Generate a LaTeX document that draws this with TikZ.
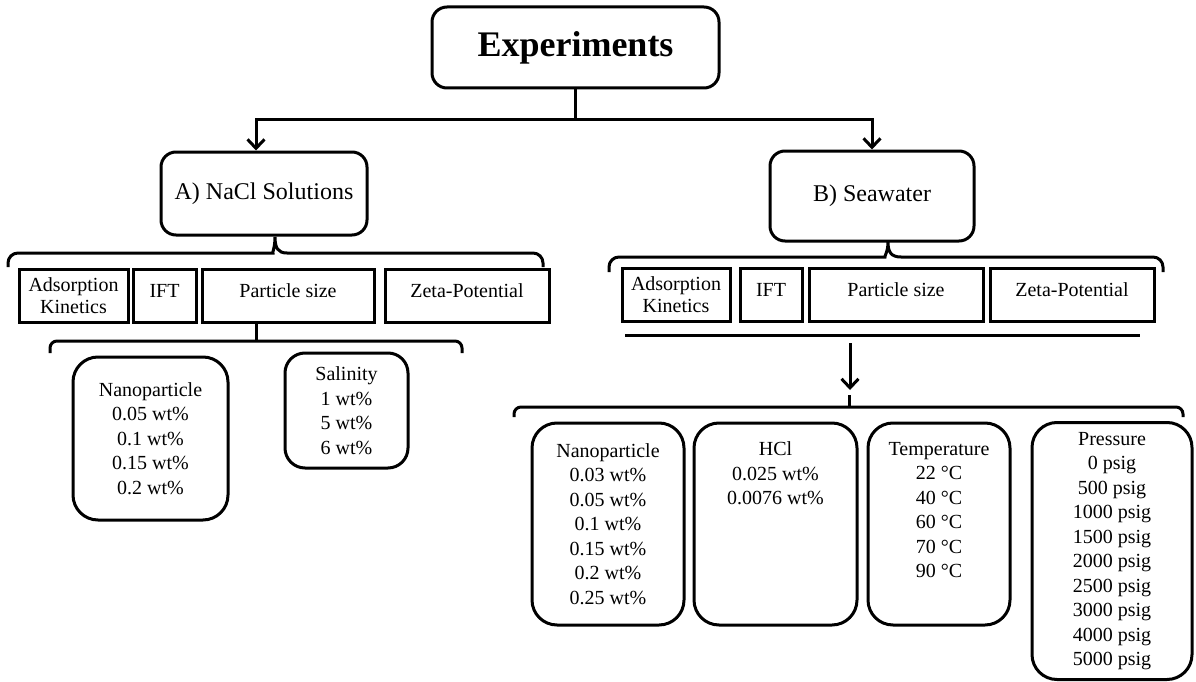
\documentclass[tikz,border=0pt]{standalone}
\usepackage{fontspec}
\setmainfont{Liberation Serif}
\usepackage{tikz}
\usetikzlibrary{arrows.meta, positioning, calc}
\tikzset{
  %% -- top heading box --
  EX/head/.style={
    draw, line width=3pt, rounded corners=15pt,
    minimum width=287pt, minimum height=81pt,
    font=\fontsize{36}{40}\selectfont\bfseries
  },
  %% -- sample group boxes --
  EX/group/.style={
    draw, line width=3pt, rounded corners=15pt,
    font=\fontsize{24}{28}\selectfont
  },
  %% -- measurement boxes (square) --
  EX/meas/.style={
    draw, line width=3pt, minimum height=53pt, inner sep=2pt,
    align=center, font=\fontsize{20}{22}\selectfont
  },
  %% -- one-line measurement box, text sits a little high --
  EX/meas1/.style={EX/meas, text depth=10pt},
  %% -- parameter list boxes --
  EX/list/.style={
    draw, line width=3pt, rounded corners=25pt,
    align=center, font=\fontsize{20}{24.5}\selectfont
  },
  %% -- loose list text --
  EX/txt/.style={align=center, font=\fontsize{20}{24.5}\selectfont},
  %% -- plain line, arrow, brace --
  EX/line/.style={line width=3pt},
  EX/arr/.style={line width=3pt, -{Straight Barb[length=9pt, width=17pt]}},
  EX/brace/.style={line width=3pt},
}
\begin{document}
\begin{tikzpicture}[x=1pt, y=-1pt]
\useasboundingbox (0,0) rectangle (1196,682);

%% ── Column x-positions ─────────────────────────────────────────
\pgfmathsetmacro{\xEx}{575.5}  %% Experiments
\pgfmathsetmacro{\xNa}{264}    %% A) NaCl Solutions
\pgfmathsetmacro{\xSw}{872}    %% B) Seawater

%% ── Top box and the two sample groups ──────────────────────────
\node[EX/head] (Ex) at (\xEx,47.5) {Experiments};

\node[EX/group, minimum width=206pt, minimum height=83pt] (NaA)
  at (\xNa,193.5) {A) NaCl Solutions};
\node[EX/group, minimum width=204pt, minimum height=90pt] (SwB)
  at (\xSw,196) {B) Seawater};

\draw[EX/line] (Ex.south) -- ++(0,30) coordinate (split);
\draw[EX/arr] (split) -| ([xshift=-8pt]NaA.north);
\draw[EX/arr] (split) -| (SwB.north);

%% ══════════════════════════════════════════════════════════════
%% A) NaCl branch
%% ══════════════════════════════════════════════════════════════
\draw[EX/brace, rounded corners=10pt] (8,267) |- (263,253)
  [sharp corners] .. controls (272,253) and (275,248) .. (275,237)
  .. controls (275,248) and (278,253) .. (287,253)
  [rounded corners=10pt] -| (543,267);

\node[EX/meas, minimum width=109pt] (adsA) at (73.5,296) {Adsorption\\Kinetics};
\node[EX/meas1, minimum width=63pt]  (iftA) at (164.5,296) {IFT};
\node[EX/meas1, minimum width=172pt] (psA)  at (288,296) {Particle size};
\node[EX/meas1, minimum width=164pt] (zpA)  at (467,296) {Zeta-Potential};

%% lower brace with its tick
\coordinate (tA) at (256,341);
\draw[EX/brace, rounded corners=7pt] (50,353) |- (tA) -| (462,353);
\draw[EX/brace] (tA) -- (tA |- psA.south);

\node[EX/list, minimum width=155pt, minimum height=163pt] (npA)
  at (150.5,438.5)
  {Nanoparticle\\0.05 wt\%\\0.1 wt\%\\0.15 wt\%\\0.2 wt\%};
\node[EX/list, rounded corners=20pt, minimum width=123pt, minimum height=115pt] (salA)
  at (346.5,410.5)
  {Salinity\\1 wt\%\\5 wt\%\\6 wt\%};

%% ══════════════════════════════════════════════════════════════
%% B) Seawater branch
%% ══════════════════════════════════════════════════════════════
\draw[EX/brace, rounded corners=10pt] (609,272) |- (875,257)
  [sharp corners] .. controls (884,257) and (888,252) .. (888,242)
  .. controls (888,252) and (891,257) .. (901,257)
  [rounded corners=10pt] -| (1163,272);

\node[EX/meas, minimum width=108pt] (adsB) at (676,295) {Adsorption\\Kinetics};
\node[EX/meas1, minimum width=62pt]  (iftB) at (771,295) {IFT};
\node[EX/meas1, minimum width=174pt] (psB)  at (896,295) {Particle size};
\node[EX/meas1, minimum width=164pt] (zpB)  at (1072,295) {Zeta-Potential};

%% underline, arrow and lower brace
\coordinate (uL) at (625,335);
\coordinate (uR) at (1140,335);
\draw[EX/line] (uL) -- (uR);
\coordinate (aT) at (850,343);
\coordinate (tB) at (849,407);
\draw[EX/arr] (aT) -- (850,390);
\draw[EX/brace, rounded corners=7pt] (514,417) |- (tB) -| (1183,417);
\draw[EX/brace] (tB) -- ++(0,-12);

\node[EX/list, minimum width=152pt, minimum height=202pt] (npB)
  at (608,524)
  {Nanoparticle\\0.03 wt\%\\0.05 wt\%\\0.1 wt\%\\0.15 wt\%\\0.2 wt\%\\0.25 wt\%};

\node[EX/list, minimum width=163pt, minimum height=202pt] (hclB) at (775.5,524) {};
\node[EX/txt, anchor=north] (hclT) at ([yshift=-17pt]hclB.north)
  {HCl\\0.025 wt\%\\0.0076 wt\%};

\node[EX/list, minimum width=142pt, minimum height=202pt] (tmpB) at (939,524) {};
\node[EX/txt, anchor=north] (tmpT) at ([yshift=-17pt]tmpB.north)
  {Temperature\\22 °C\\40 °C\\60 °C\\70 °C\\90 °C};

\node[EX/list, minimum width=160pt, minimum height=257pt] (prB)
  at (1112,551)
  {Pressure\\0 psig\\500 psig\\1000 psig\\1500 psig\\2000 psig\\2500 psig\\3000 psig\\4000 psig\\5000 psig};

\end{tikzpicture}
\end{document}
